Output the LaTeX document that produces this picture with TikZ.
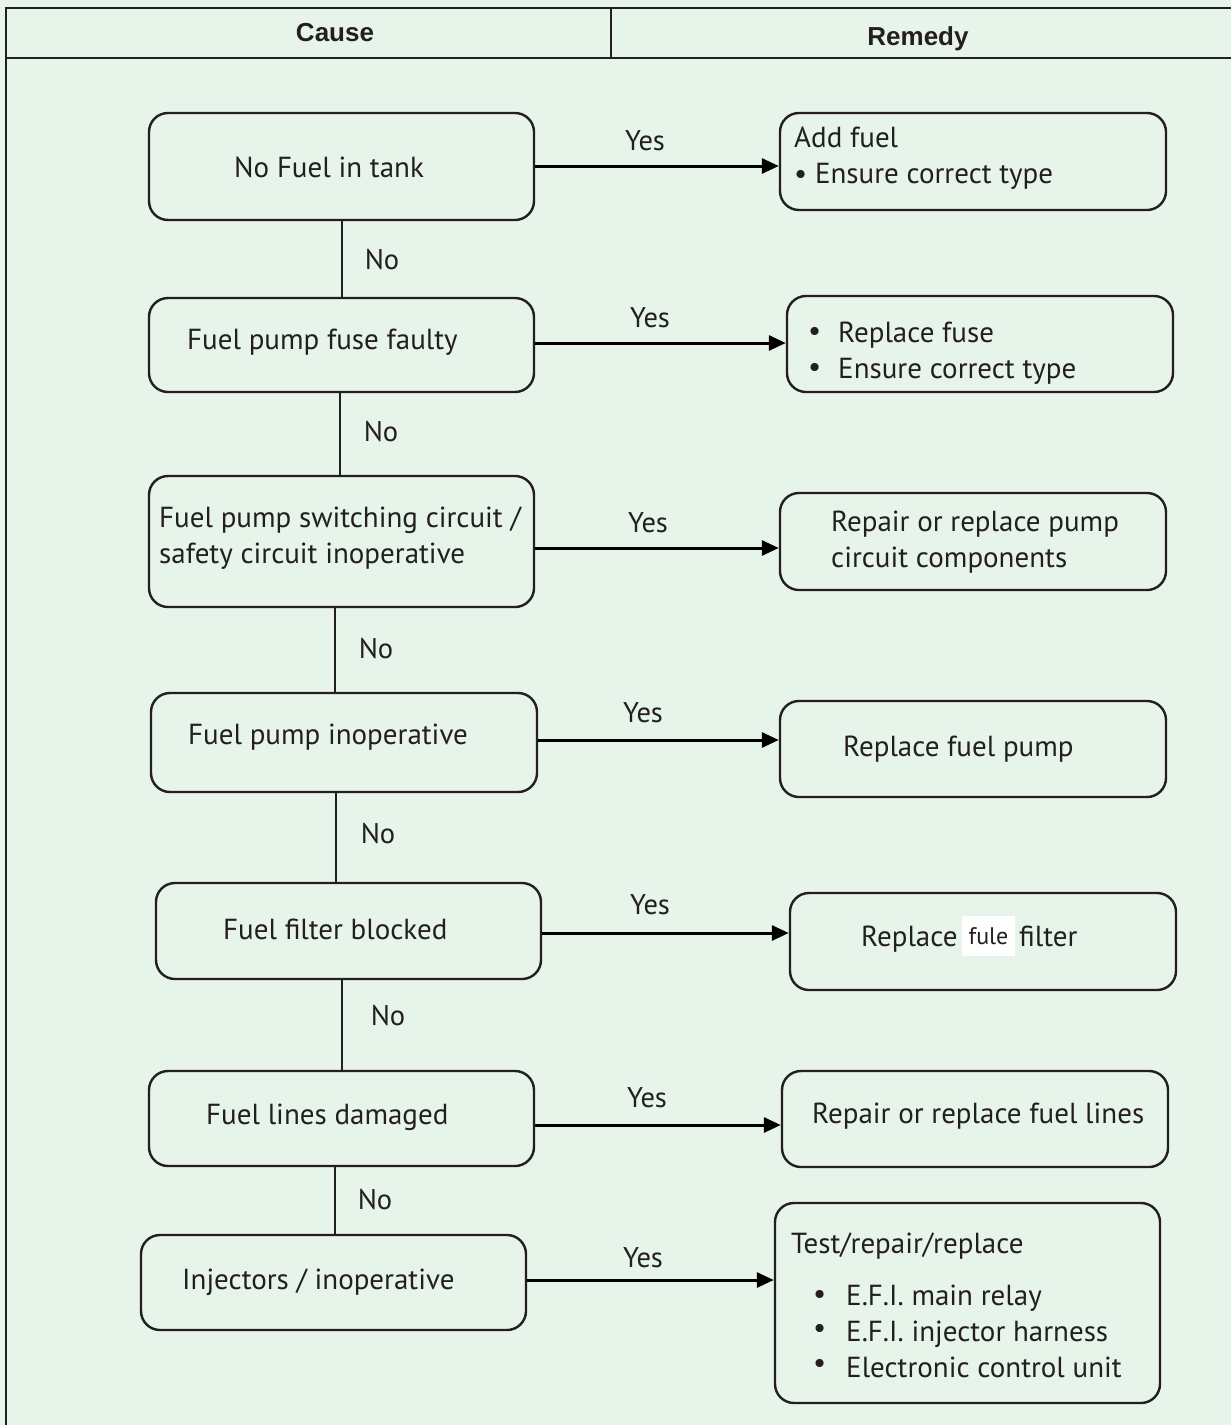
\documentclass[tikz,border=0pt]{standalone}
\usepackage{fontspec}
\setmainfont{PT Sans}
\newfontfamily\headfont{Liberation Sans}
\usetikzlibrary{arrows.meta,fit}
\definecolor{bg}{HTML}{E6F4EA}
\definecolor{ink}{HTML}{231F20}
\begin{document}
\begin{tikzpicture}[x=1pt,y=-1pt,
  box/.style={draw=ink,line width=2.4pt,rounded corners=19pt,inner sep=0pt},
  txt/.style={anchor=base west,inner sep=0pt,text=ink,font=\fontsize{29}{34}\selectfont},
  lbl/.style={anchor=base,inner sep=0pt,text=ink,font=\fontsize{28.5}{34}\selectfont},
  head/.style={anchor=base,inner sep=0pt,text=ink,font=\headfont\bfseries\fontsize{26}{30}\selectfont},
  yes/.style={line width=3pt,-{Triangle[length=17pt,width=15pt]}},
  no/.style={draw=ink,line width=2.4pt},
  frame/.style={draw=ink,line width=2.2pt}]
% page and table frame
\fill[bg] (0,0) rectangle (1231,1425);
\useasboundingbox (0,0) rectangle (1231,1425);
\draw[frame] (1231,8) -- (6,8) -- (6,1425);
\draw[frame] (6,58) -- (1231,58);
\draw[frame] (611,8) -- (611,58);
\node[head] (hcause) at (335,41) {Cause};
\node[head] (hremedy) at (918,45) {Remedy};

% cause boxes
\node[box,fit={(149,113) (534,220)}] (c1) {};
\node[box,fit={(149,298) (534,392)}] (c2) {};
\node[box,fit={(149,476) (534,607)}] (c3) {};
\node[box,fit={(151,693) (537,792)}] (c4) {};
\node[box,fit={(156,883) (541,979)}] (c5) {};
\node[box,fit={(149,1071) (534,1166)}] (c6) {};
\node[box,fit={(141,1235) (526,1330)}] (c7) {};

\node[txt] (t1) at (234,177) {No Fuel in tank};
\node[txt] (t2) at (187,349) {Fuel pump fuse faulty};
\node[txt] (t3a) at (159,527) {Fuel pump switching circuit /};
\node[txt] (t3b) at (159,563) {safety circuit inoperative};
\node[txt] (t4) at (188,744) {Fuel pump inoperative};
\node[txt] (t5) at (223,939) {Fuel filter blocked};
\node[txt] (t6) at (206,1124) {Fuel lines damaged};
\node[txt] (t7) at (182,1289) {Injectors / inoperative};

% remedy boxes
\node[box,fit={(780,113) (1166,210)}] (r1) {};
\node[box,fit={(787,296) (1173,392)}] (r2) {};
\node[box,fit={(780,493) (1166,590)}] (r3) {};
\node[box,fit={(780,701) (1166,797)}] (r4) {};
\node[box,fit={(790,893) (1176,990)}] (r5) {};
\node[box,fit={(782,1071) (1168,1167)}] (r6) {};
\node[box,fit={(775,1203) (1160,1403)}] (r7) {};

\node[txt] (s1a) at (794,147) {Add fuel};
\node[txt] (s1b) at (794,183) {• Ensure correct type};
\node[txt] (s2p) at (808,340) {•};
\node[txt] (s2a) at (838,342) {Replace fuse};
\node[txt] (s2q) at (808,376) {•};
\node[txt] (s2b) at (838,378) {Ensure correct type};
\node[txt] (s3a) at (831,531) {Repair or replace pump};
\node[txt] (s3b) at (831,567) {circuit components};
\node[txt] (s4) at (843,756) {Replace fuel pump};
\node[txt] (s5a) at (861,946) {Replace};
\node[fill=white,inner sep=0pt,minimum width=53pt,minimum height=40pt,text=ink,font=\fontsize{24}{28}\selectfont] (s5b) at (988.5,936) {fule};
\node[txt] (s5c) at (1019,946) {filter};
\node[txt] (s6) at (812,1123) {Repair or replace fuel lines};
\node[txt] (s7) at (791,1253) {Test/repair/replace};
\node[txt] (s7p) at (813,1303) {•};
\node[txt] (s7a) at (846,1305) {E.F.I. main relay};
\node[txt] (s7q) at (813,1337) {•};
\node[txt] (s7b) at (846,1341) {E.F.I. injector harness};
\node[txt] (s7r) at (813,1372) {•};
\node[txt] (s7c) at (846,1377) {Electronic control unit};

% yes connectors
\draw[yes] (c1.east |- 0,166) -- (r1.west |- 0,166);
\draw[yes] (c2.east |- 0,343) -- (r2.west |- 0,343);
\draw[yes] (c3.east |- 0,548) -- (r3.west |- 0,548);
\draw[yes] (c4.east |- 0,740) -- (r4.west |- 0,740);
\draw[yes] (c5.east |- 0,933) -- (r5.west |- 0,933);
\draw[yes] (c6.east |- 0,1125) -- (r6.west |- 0,1125);
\draw[yes] (c7.east |- 0,1280) -- (r7.west |- 0,1280);
\node[lbl] (y1) at (645,150) {Yes};
\node[lbl] (y2) at (650,327) {Yes};
\node[lbl] (y3) at (648,532) {Yes};
\node[lbl] (y4) at (643,722) {Yes};
\node[lbl] (y5) at (650,914) {Yes};
\node[lbl] (y6) at (647,1107) {Yes};
\node[lbl] (y7) at (643,1267) {Yes};

% no connectors
\draw[no] (c1.south -| 342,0) -- (c2.north -| 342,0);
\draw[no] (c2.south -| 340,0) -- (c3.north -| 340,0);
\draw[no] (c3.south -| 335,0) -- (c4.north -| 335,0);
\draw[no] (c4.south -| 336,0) -- (c5.north -| 336,0);
\draw[no] (c5.south -| 342,0) -- (c6.north -| 342,0);
\draw[no] (c6.south -| 335,0) -- (c7.north -| 335,0);
\node[lbl] (n1) at (382,269) {No};
\node[lbl] (n2) at (381,441) {No};
\node[lbl] (n3) at (376,658) {No};
\node[lbl] (n4) at (378,843) {No};
\node[lbl] (n5) at (388,1025) {No};
\node[lbl] (n6) at (375,1209) {No};
\end{tikzpicture}
\end{document}
